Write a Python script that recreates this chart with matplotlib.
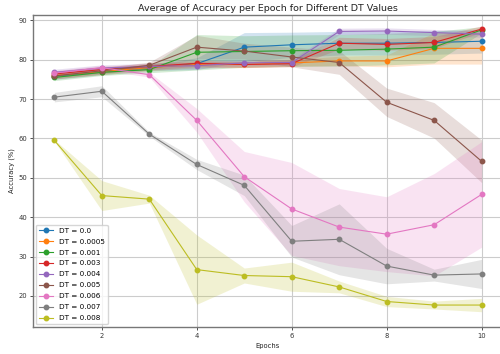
import numpy as np
import matplotlib
matplotlib.use("Agg")
import matplotlib.pyplot as plt

epochs = [1, 2, 3, 4, 5, 6, 7, 8, 9, 10]
dt_labels = ["0.0", "0.0005", "0.001", "0.003", "0.004", "0.005", "0.006", "0.007", "0.008"]

mean_dt_0 = [75.8, 77.0, 78.0, 79.0, 83.2, 83.8, 84.2, 84.2, 84.4, 84.7]
mean_dt_0005 = [76.0, 77.0, 78.0, 78.8, 78.8, 79.2, 79.7, 79.7, 82.9, 82.9]
mean_dt_001 = [75.5, 76.8, 77.5, 81.9, 82.1, 82.3, 82.4, 82.7, 83.2, 87.6]
mean_dt_003 = [76.4, 77.5, 78.3, 79.1, 78.8, 79.0, 84.2, 83.9, 84.4, 87.8]
mean_dt_004 = [76.8, 77.9, 78.3, 78.5, 79.2, 79.3, 87.2, 87.3, 86.9, 86.5]
mean_dt_005 = [75.9, 77.2, 78.6, 83.2, 82.2, 80.7, 79.3, 69.2, 64.6, 54.2]
mean_dt_006 = [76.6, 78.0, 76.2, 64.6, 50.3, 42.1, 37.5, 35.7, 38.1, 45.8]
mean_dt_007 = [70.5, 72.0, 61.1, 53.4, 48.1, 33.9, 34.4, 27.6, 25.3, 25.6]
mean_dt_008 = [59.5, 45.5, 44.6, 26.7, 25.2, 24.9, 22.3, 18.6, 17.7, 17.7]

std_dt_0 = [0.8, 0.8, 0.8, 1.5, 3.7, 3.2, 3.0, 3.0, 3.0, 3.0]
std_dt_0005 = [0.8, 0.8, 0.8, 0.8, 0.8, 0.8, 1.2, 1.5, 4.0, 4.0]
std_dt_001 = [0.8, 0.8, 0.8, 4.5, 4.0, 4.0, 4.0, 4.0, 4.0, 0.8]
std_dt_003 = [0.8, 0.8, 0.8, 0.8, 0.8, 0.8, 1.5, 1.5, 1.5, 0.8]
std_dt_004 = [0.8, 0.8, 0.8, 0.8, 0.8, 0.8, 0.8, 0.8, 0.8, 0.8]
std_dt_005 = [0.8, 0.8, 0.8, 3.0, 2.0, 2.5, 3.0, 3.6, 4.5, 5.4]
std_dt_006 = [0.6, 0.6, 0.6, 3.0, 6.4, 11.8, 9.8, 9.5, 13.0, 13.4]
std_dt_007 = [1.2, 1.4, 0.5, 1.3, 2.6, 4.0, 9.0, 4.5, 1.5, 3.7]
std_dt_008 = [0.2, 3.8, 1.0, 8.8, 1.9, 3.7, 1.5, 1.3, 1.0, 1.7]

means = [mean_dt_0, mean_dt_0005, mean_dt_001, mean_dt_003, mean_dt_004,
         mean_dt_005, mean_dt_006, mean_dt_007, mean_dt_008]
stds = [std_dt_0, std_dt_0005, std_dt_001, std_dt_003, std_dt_004,
        std_dt_005, std_dt_006, std_dt_007, std_dt_008]

colors = ["tab:blue", "tab:orange", "tab:green", "tab:red", "tab:purple",
          "tab:brown", "tab:pink", "tab:gray", "tab:olive"]

fig = plt.figure(figsize=(5.0, 3.54), dpi=100)
ax = fig.add_axes([0.066, 0.076, 0.94, 0.882])

x = np.array(epochs)
for label, m, s, c in zip(dt_labels, means, stds, colors):
    m = np.array(m)
    s = np.array(s)
    ax.plot(x, m, marker="o", markersize=3.2, linewidth=0.8, color=c,
            label=f"DT = {label}")
    ax.fill_between(x, m - s, m + s, color=c, alpha=0.2, linewidth=0)

ax.set_xlim(0.55, 10.45)
ax.set_ylim(12.1, 91.4)
ax.set_xticks([2, 4, 6, 8, 10])
ax.set_yticks([20, 30, 40, 50, 60, 70, 80, 90])
ax.grid(True, color="#cccccc", linewidth=0.8)
ax.set_axisbelow(True)
ax.tick_params(labelsize=4.9, length=2, width=0.6, pad=2, colors="#333333")
for sp in ax.spines.values():
    sp.set_color("#777777")
    sp.set_linewidth(1.0)

ax.set_title("Average of Accuracy per Epoch for Different DT Values",
             fontsize=6.8, pad=3, color="#222222")
ax.set_xlabel("Epochs", fontsize=4.9, labelpad=3, color="#222222")
ax.set_ylabel("Accuracy (%)", fontsize=4.9, labelpad=3, color="#222222")
ax.legend(loc="lower left", fontsize=5.2, borderaxespad=0.4,
          handlelength=2.0, labelspacing=0.68, framealpha=0.8)

fig.savefig("out.png", dpi=100)
